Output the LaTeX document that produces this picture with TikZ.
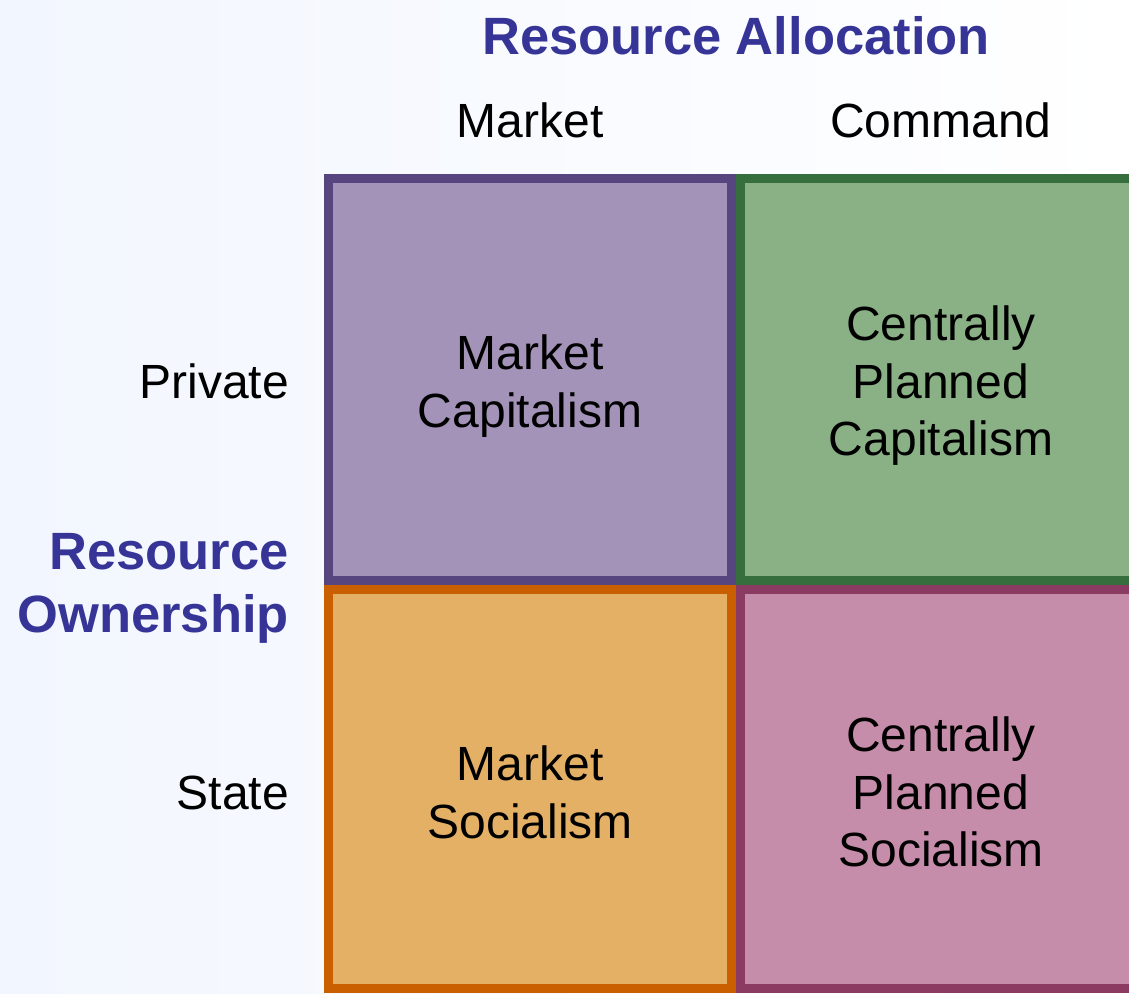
\documentclass[tikz,border=0pt]{standalone}
\usepackage{fontspec}
\setmainfont{Liberation Sans}
\definecolor{bgleft}{HTML}{F2F6FE}
\definecolor{titleblue}{HTML}{363597}
\definecolor{purpleline}{HTML}{56457E}
\definecolor{purplefill}{HTML}{A393B8}
\definecolor{greenline}{HTML}{366F3D}
\definecolor{greenfill}{HTML}{8AB086}
\definecolor{orangeline}{HTML}{CA5F00}
\definecolor{orangefill}{HTML}{E4B065}
\definecolor{pinkline}{HTML}{8B3A62}
\definecolor{pinkfill}{HTML}{C68DAB}
\tikzset{
  cell/.style={line width=9pt},
  bodytext/.style={inner sep=0pt, align=center, font=\fontsize{48}{57.6}\selectfont},
  sidetext/.style={inner sep=0pt, anchor=base east, font=\fontsize{48}{57.6}\selectfont},
  headtext/.style={inner sep=0pt, anchor=base, font=\fontsize{48}{57.6}\selectfont},
  axistitle/.style={inner sep=0pt, text=titleblue, font=\fontsize{52.5}{63.4}\selectfont\bfseries}
}
\begin{document}
\begin{tikzpicture}[x=1pt,y=-1pt]
\useasboundingbox (0,0) rectangle (1129,993);
\shade[left color=bgleft, right color=white, shading angle=90] (0,0) rectangle (1129,993);
\clip (0,0) rectangle (1129,993);
% cells
\draw[cell, draw=purpleline, fill=purplefill] (328.5,178.5) rectangle (731.5,580.5);
\draw[cell, draw=greenline, fill=greenfill] (740.5,178.5) rectangle (1141.5,580.5);
\draw[cell, draw=orangeline, fill=orangefill] (328.5,589.5) rectangle (731.5,988.5);
\draw[cell, draw=pinkline, fill=pinkfill] (740.5,589.5) rectangle (1141.5,988.5);
% titles (base anchor = baseline of last line)
\node[axistitle, anchor=base] (alloc) at (736,54) {Resource Allocation};
\node[axistitle, anchor=base east, align=right] (owner) at (289,632.7) {Resource\\Ownership};
% column and row heads
\node[headtext] (market) at (530,137) {Market};
\node[headtext] (command) at (941,137) {Command};
\node[sidetext] (private) at (289,398) {Private};
\node[sidetext] (state) at (289,809) {State};
% cell texts
\node[bodytext, anchor=base] (mc) at (530,427.1) {Market\\Capitalism};
\node[bodytext, anchor=base] (cpc) at (941,455.7) {Centrally\\Planned\\Capitalism};
\node[bodytext, anchor=base] (ms) at (530,838.1) {Market\\Socialism};
\node[bodytext, anchor=base] (cps) at (941,866.7) {Centrally\\Planned\\Socialism};
\end{tikzpicture}
\end{document}
